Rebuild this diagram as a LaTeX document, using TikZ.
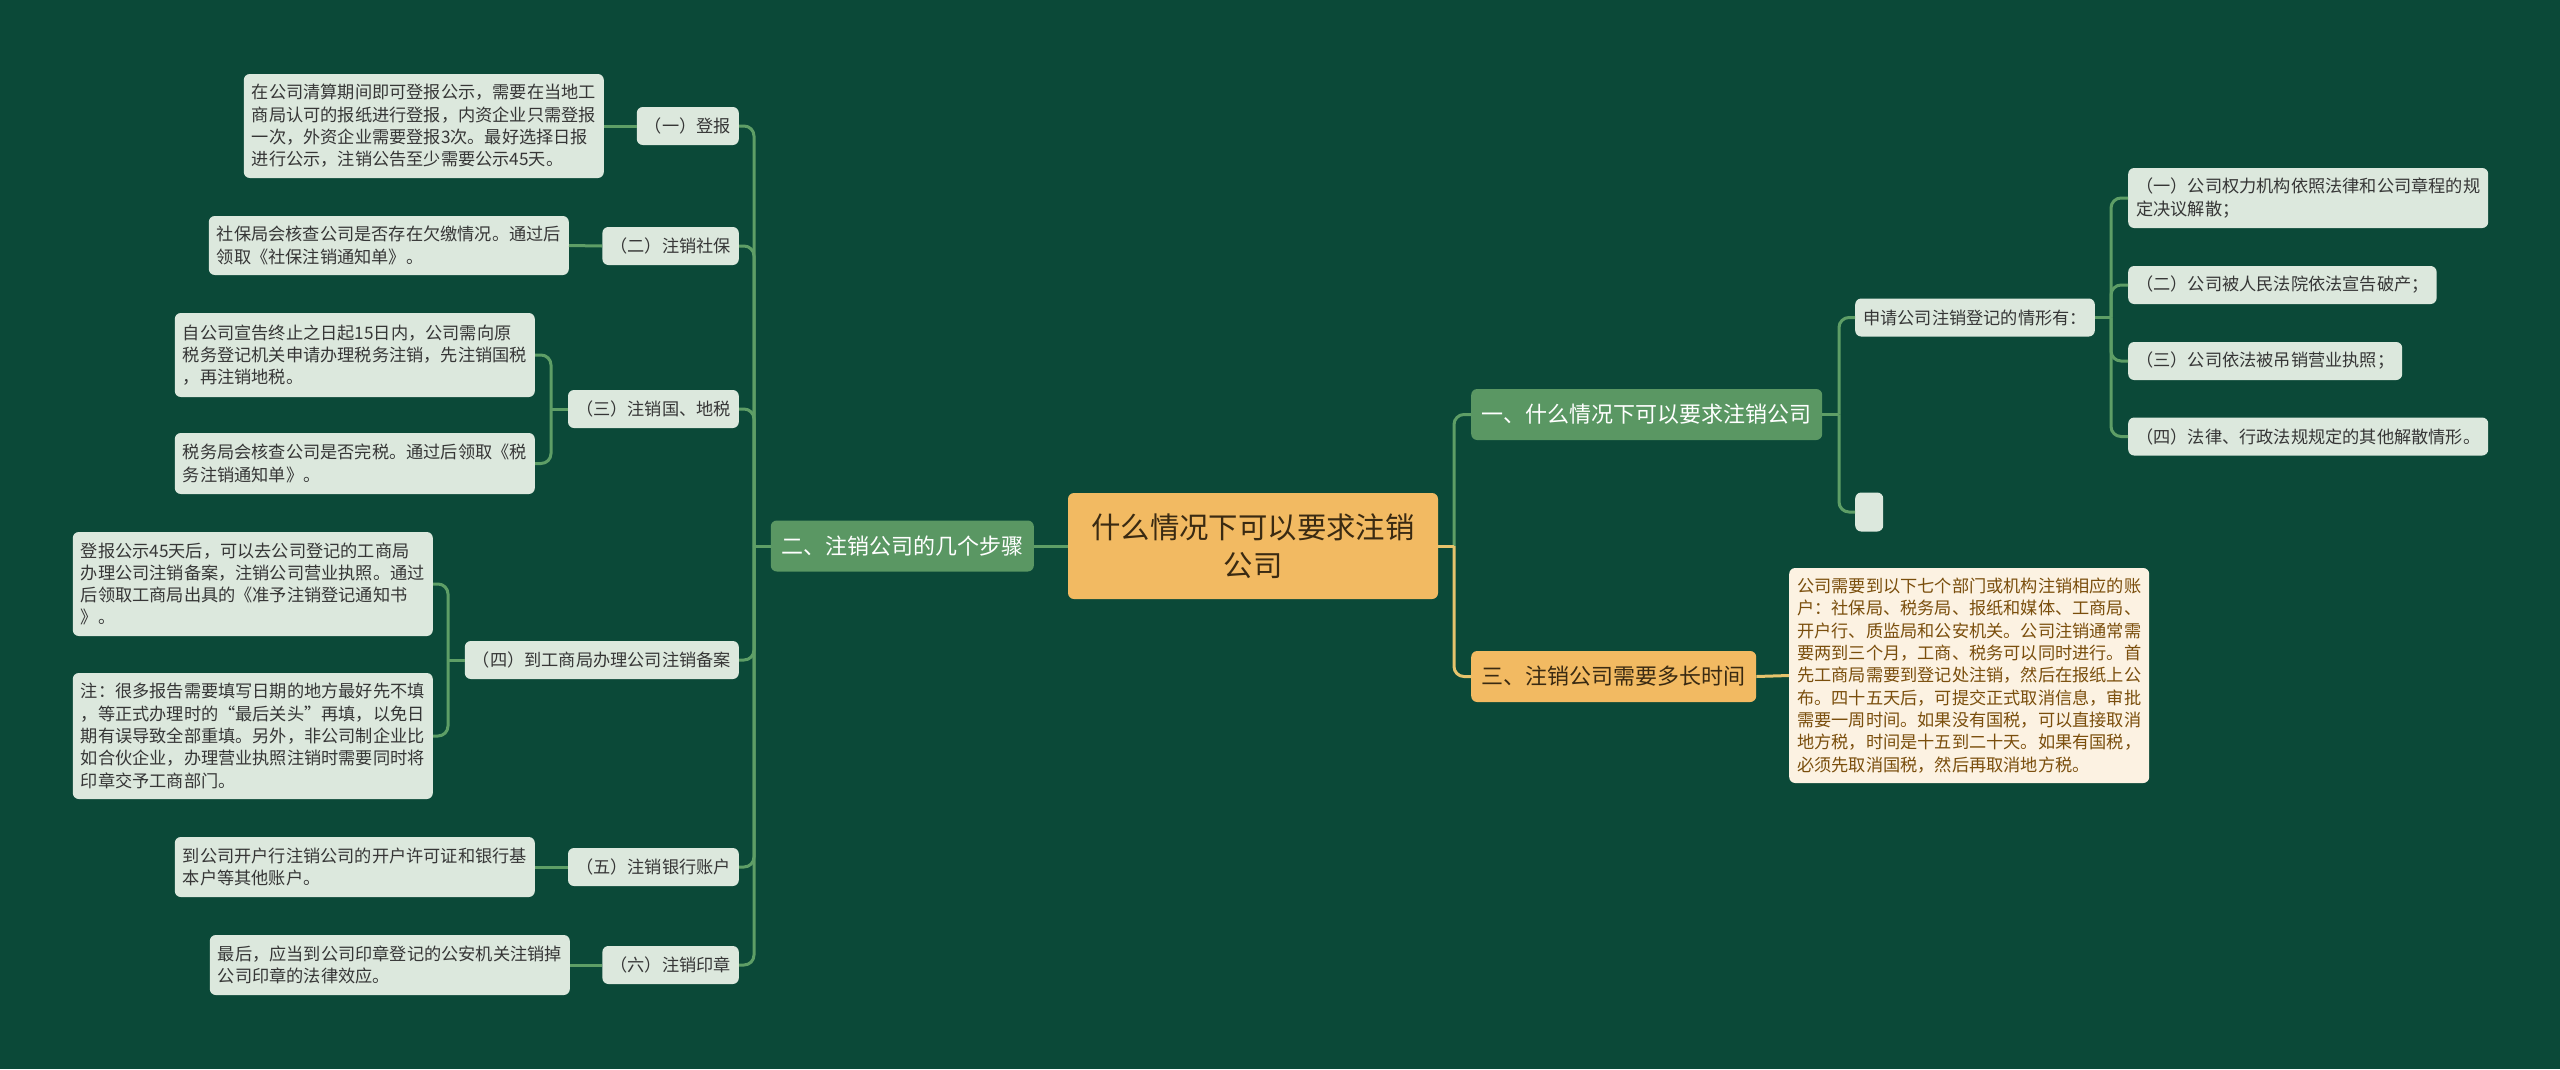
\documentclass[tikz,border=0pt]{standalone}
\usepackage{fontspec}
\setmainfont{Noto Sans CJK SC}
\usetikzlibrary{positioning}

\definecolor{bg}{HTML}{0B4938}
\definecolor{mint}{HTML}{DCE8DD}
\definecolor{leafgreen}{HTML}{5A9763}
\definecolor{sand}{HTML}{F2BA62}
\definecolor{cream}{HTML}{FCF2E2}
\definecolor{rust}{HTML}{7A4E0C}
\definecolor{ink}{HTML}{363636}
\definecolor{bark}{HTML}{3A2A12}
\definecolor{wire}{HTML}{5E9E66}
\definecolor{wireo}{HTML}{E6C36C}

\tikzset{
  smallfont/.style={font=\fontsize{17.2}{22.3}\selectfont},
  root/.style={fill=sand,text=bark,rounded corners=6,align=center,font=\fontsize{29.4}{38}\selectfont},
  topic/.style={fill=leafgreen,text=white,rounded corners=6,inner xsep=10.5,minimum height=51,font=\fontsize{22}{26}\selectfont},
  topico/.style={topic,fill=sand,text=bark},
  item/.style={smallfont,fill=mint,text=ink,rounded corners=6,inner xsep=8,minimum height=38},
  leaf/.style={item,align=left,minimum width=359},
  note/.style={leaf,fill=cream,text=rust},
  link/.style={draw=wire,line width=3,rounded corners=10},
  linko/.style={draw=wireo,line width=3,rounded corners=10}
}

\begin{document}
\begin{tikzpicture}[x=1pt,y=-1pt]
\fill[bg] (0,0) rectangle (2560,1069);

% centre and main branches
\node (root) at (1253,546) [root,minimum width=370,minimum height=106] {什么情况下可以要求注销\\公司};
\node (b2) at (1034,546) [topic,anchor=east] {二、注销公司的几个步骤};
\node (b1) at (1471,414.5) [topic,anchor=west] {一、什么情况下可以要求注销公司};
\node (b3) at (1471,676.5) [topico,anchor=west] {三、注销公司需要多长时间};

% steps
\node (s1) at (739,126) [item,anchor=east] {（一）登报};
\node (s2) at (739,246) [item,anchor=east] {（二）注销社保};
\node (s3) at (739,409) [item,anchor=east] {（三）注销国、地税};
\node (s4) at (739,660) [item,anchor=east] {（四）到工商局办理公司注销备案};
\node (s5) at (739,867) [item,anchor=east] {（五）注销银行账户};
\node (s6) at (739,965) [item,anchor=east] {（六）注销印章};

\node (t1) at (604,126) [leaf,anchor=east,minimum height=104] {在公司清算期间即可登报公示，需要在当地工\\商局认可的报纸进行登报，内资企业只需登报\\一次，外资企业需要登报3次。最好选择日报\\进行公示，注销公告至少需要公示45天。};
\node (t2) at (569,245.5) [leaf,anchor=east,minimum height=59] {社保局会核查公司是否存在欠缴情况。通过后\\领取《社保注销通知单》。};
\node (t3a) at (535,355) [leaf,anchor=east,minimum height=84] {自公司宣告终止之日起15日内，公司需向原\\税务登记机关申请办理税务注销，先注销国税\\，再注销地税。};
\node (t3b) at (535,463.5) [leaf,anchor=east,minimum height=61] {税务局会核查公司是否完税。通过后领取《税\\务注销通知单》。};
\node (t4a) at (433,584) [leaf,anchor=east,minimum height=104] {登报公示45天后，可以去公司登记的工商局\\办理公司注销备案，注销公司营业执照。通过\\后领取工商局出具的《准予注销登记通知书\\》。};
\node (t4b) at (433,736) [leaf,anchor=east,minimum height=126] {注：很多报告需要填写日期的地方最好先不填\\，等正式办理时的“最后关头”再填，以免日\\期有误导致全部重填。另外，非公司制企业比\\如合伙企业，办理营业执照注销时需要同时将\\印章交予工商部门。};
\node (t5) at (535,867) [leaf,anchor=east,minimum height=60] {到公司开户行注销公司的开户许可证和银行基\\本户等其他账户。};
\node (t6) at (570,965) [leaf,anchor=east,minimum height=60] {最后，应当到公司印章登记的公安机关注销掉\\公司印章的法律效应。};

% cases
\node (c0) at (1855,317.5) [item,anchor=west] {申请公司注销登记的情形有：};
\node (c9) at (1855,512) [item,anchor=west,minimum width=28,minimum height=39] {};
\node (c1) at (2128,198) [leaf,anchor=west,minimum height=60] {（一）公司权力机构依照法律和公司章程的规\\定决议解散；};
\node (c2) at (2128,285) [item,anchor=west] {（二）公司被人民法院依法宣告破产；};
\node (c3) at (2128,361) [item,anchor=west] {（三）公司依法被吊销营业执照；};
\node (c4) at (2128,436.5) [item,anchor=west] {（四）法律、行政法规规定的其他解散情形。};

% time
\node (n1) at (1789,675.5) [note,anchor=west,minimum height=215] {公司需要到以下七个部门或机构注销相应的账\\户：社保局、税务局、报纸和媒体、工商局、\\开户行、质监局和公安机关。公司注销通常需\\要两到三个月，工商、税务可以同时进行。首\\先工商局需要到登记处注销，然后在报纸上公\\布。四十五天后，可提交正式取消信息，审批\\需要一周时间。如果没有国税，可以直接取消\\地方税，时间是十五到二十天。如果有国税，\\必须先取消国税，然后再取消地方税。};

% joints
\coordinate (j0) at (754,546);
\coordinate (j3) at (551,409);
\coordinate (j4) at (448,660);
\coordinate (jr) at (1454,546);
\coordinate (j1) at (1839,414.5);
\coordinate (j2) at (2111,317.5);

% connectors
\draw[link] (root.west) -- (b2.east);
\draw[link] (b2.west) -- (j0);
\foreach \n in {s1,s2,s3,s4,s5,s6}
  \draw[link] (\n.east) -| (j0);
\draw[link] (s1.west) -- (t1.east);
\draw[link] (s2.west) -- (t2.east);
\draw[link] (s3.west) -- (j3);
\draw[link] (t3a.east) -| (j3);
\draw[link] (t3b.east) -| (j3);
\draw[link] (s4.west) -- (j4);
\draw[link] (t4a.east) -| (j4);
\draw[link] (t4b.east) -| (j4);
\draw[link] (s5.west) -- (t5.east);
\draw[link] (s6.west) -- (t6.east);

\draw[link] (b1.west) -| (jr);
\draw[linko] (b3.west) -| (jr);
\draw[linko] (root.east) -- (jr);
\draw[link] (b1.east) -- (j1);
\draw[link] (c0.west) -| (j1);
\draw[link] (c9.west) -| (j1);
\draw[link] (c0.east) -- (j2);
\foreach \n in {c1,c2,c3,c4}
  \draw[link] (\n.west) -| (j2);
\draw[linko] (b3.east) -- (n1.west);
\end{tikzpicture}
\end{document}
